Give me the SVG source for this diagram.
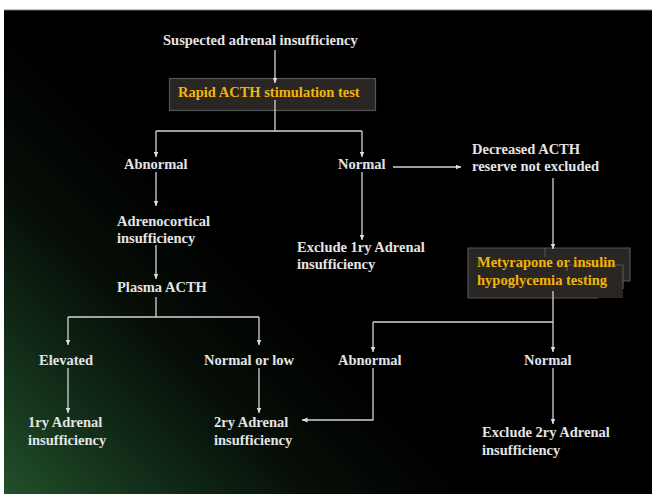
<svg xmlns="http://www.w3.org/2000/svg" width="652" height="494" viewBox="0 0 652 494">
<defs>
<linearGradient id="bg" gradientUnits="userSpaceOnUse" x1="4" y1="494" x2="240" y2="258">
<stop offset="0" stop-color="#22502a"/>
<stop offset="0.3" stop-color="#13301a"/>
<stop offset="0.65" stop-color="#070f08"/>
<stop offset="1" stop-color="#000000"/>
</linearGradient>
<marker id="ah" markerUnits="userSpaceOnUse" markerWidth="6" markerHeight="6" refX="5.5" refY="2.5" orient="auto">
<path d="M0,0 L5.5,2.5 L0,5 z" fill="#e0e0e0"/>
</marker>
<style>
text{font-family:"Liberation Serif","Times New Roman",serif;font-weight:bold;font-size:14.5px;fill:#e4e4e4}
text.gold{fill:#f0b40a}
.c path{fill:none;stroke:#d4d4d4;stroke-width:1.3}
.box{fill:#2a2624;stroke:#555;stroke-width:1.2}
</style>
</defs>
<rect x="0" y="0" width="652" height="494" fill="#ffffff"/>
<rect x="4" y="10" width="648" height="484" fill="url(#bg)"/>
<line x1="4" y1="10" x2="652" y2="10" stroke="#777" stroke-width="1"/>

<g id="n-suspected"><text x="163" y="45">Suspected adrenal insufficiency</text></g>
<g id="n-rapid">
<rect class="box" x="169.5" y="78.5" width="206" height="32"/>
<text class="gold" x="178" y="97">Rapid ACTH stimulation test</text>
</g>
<g id="n-abnormal1"><text x="124" y="169">Abnormal</text></g>
<g id="n-normal1"><text x="338" y="169">Normal</text></g>
<g id="n-decreased"><text x="472" y="154">Decreased ACTH</text><text x="472" y="171">reserve not excluded</text></g>
<g id="n-adrenocortical"><text x="117" y="226">Adrenocortical</text><text x="117" y="243">insufficiency</text></g>
<g id="n-exclude1"><text x="297" y="252">Exclude 1ry Adrenal</text><text x="297" y="269">insufficiency</text></g>
<g id="n-plasma"><text x="117" y="292">Plasma ACTH</text></g>
<g id="n-metyrapone">
<path d="M468,248 H630 V281 H623 V298 H468 Z" fill="#2a2624"/>
<path d="M468,298 V248 H630 V281 M468,298 H598 M545,248 V257 M567,271 V265 H623 V289 M623,281 H630" fill="none" stroke="#555" stroke-width="1.2"/>
<text class="gold" x="477" y="267">Metyrapone or insulin</text>
<text class="gold" x="477" y="285">hypoglycemia testing</text>
</g>
<g id="n-elevated"><text x="39" y="365">Elevated</text></g>
<g id="n-normallow"><text x="204" y="365">Normal or low</text></g>
<g id="n-abnormal2"><text x="338" y="365">Abnormal</text></g>
<g id="n-normal2"><text x="524" y="365">Normal</text></g>
<g id="n-1ry"><text x="28" y="427">1ry Adrenal</text><text x="28" y="445">insufficiency</text></g>
<g id="n-2ry"><text x="214" y="427">2ry Adrenal</text><text x="214" y="445">insufficiency</text></g>
<g id="n-exclude2"><text x="482" y="437">Exclude 2ry Adrenal</text><text x="482" y="455">insufficiency</text></g>

<g id="connectors" class="c">
<path d="M275,50 V83" marker-end="url(#ah)"/>
<path d="M275,100 V131"/>
<path d="M156,131 H362"/>
<path d="M156,131 V157" marker-end="url(#ah)"/>
<path d="M362,131 V157" marker-end="url(#ah)"/>
<path d="M393,167 H461" marker-end="url(#ah)"/>
<path d="M362,172 V240" marker-end="url(#ah)"/>
<path d="M156,172 V206" marker-end="url(#ah)"/>
<path d="M553,178 V249" marker-end="url(#ah)"/>
<path d="M156,245 V279" marker-end="url(#ah)"/>
<path d="M156,297 V317 M68,317 H259"/>
<path d="M68,317 V345" marker-end="url(#ah)"/>
<path d="M259,317 V345" marker-end="url(#ah)"/>
<path d="M68,368 V413" marker-end="url(#ah)"/>
<path d="M259,368 V413" marker-end="url(#ah)"/>
<path d="M553,291 V352" marker-end="url(#ah)"/>
<path d="M373,322 H553"/>
<path d="M373,322 V352" marker-end="url(#ah)"/>
<path d="M373,368 V420 H302" marker-end="url(#ah)"/>
<path d="M553,368 V424" marker-end="url(#ah)"/>
</g>
</svg>
